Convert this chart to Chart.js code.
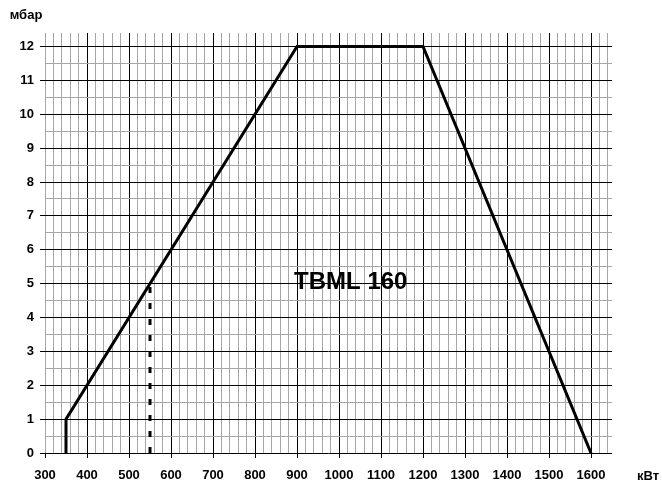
<!DOCTYPE html>
<html>
<head>
<meta charset="utf-8">
<script src="https://cdn.jsdelivr.net/npm/chart.js@4"></script>
<style>
  html, body { margin: 0; padding: 0; background: #fff; }
  #wrap { width: 662px; height: 484px; position: relative; }
</style>
</head>
<body>
<div id="wrap"><canvas id="rangeChart"></canvas></div>
<script>
// Working range curve
const powerKw = [350, 350, 900, 1200, 1600];
const pressureMbar = [0, 1, 12, 12, 0];

// Dashed reference line
const markKw = [550, 550];
const markMbar = [0, 5];

// Axis ticks
const xTicks = [300, 400, 500, 600, 700, 800, 900, 1000, 1100, 1200, 1300, 1400, 1500, 1600];
const yTicks = [0, 1, 2, 3, 4, 5, 6, 7, 8, 9, 10, 11, 12];

const modelName = 'TBML 160';
const modelAt = [1028, 5.05];

const fontFamily = '"Liberation Sans", Arial, sans-serif';
const minorColor = '#a6a6a6';

function isMajorX(v) { return xTicks.includes(Math.round(v)); }
function isMajorY(v) { return yTicks.includes(v); }

const textPlugin = {
    id: 'extraText',
    afterDraw(chart) {
        const ctx = chart.ctx;
        const x = chart.scales.x, y = chart.scales.y;
        ctx.save();
        ctx.fillStyle = '#000';
        ctx.textBaseline = 'middle';
        ctx.textAlign = 'center';
        ctx.font = 'bold 24px ' + fontFamily;
        ctx.fillText(modelName, x.getPixelForValue(modelAt[0]), y.getPixelForValue(modelAt[1]));
        ctx.font = 'bold 13px ' + fontFamily;
        ctx.fillText('мбар', 26, 15);
        ctx.fillText('кВт', 648, 476);
        ctx.restore();
    }
};

const rangeChart = new Chart(document.getElementById('rangeChart').getContext('2d'), {
    type: 'line',
    data: {
        datasets: [
            {
                data: powerKw.map((v, i) => ({ x: v, y: pressureMbar[i] })),
                borderColor: '#000',
                borderWidth: 3,
                pointRadius: 0,
                tension: 0,
                fill: false
            },
            {
                data: markKw.map((v, i) => ({ x: v, y: markMbar[i] })),
                borderColor: '#000',
                borderWidth: 3,
                borderDash: [6, 10],
                pointRadius: 0,
                fill: false
            }
        ]
    },
    options: {
        responsive: true,
        maintainAspectRatio: false,
        animation: false,
        layout: { padding: { left: 0, right: 50, top: 33, bottom: 0 } },
        plugins: {
            legend: { display: false },
            tooltip: { enabled: false }
        },
        scales: {
            x: {
                type: 'linear',
                min: 300,
                max: 1650,
                afterFit(scale) { scale.height = 31; },
                border: { display: false },
                grid: {
                    color: ctx => (ctx.tick && isMajorX(ctx.tick.value) && ctx.tick.value !== 300) ? '#000' : minorColor,
                    tickColor: ctx => (ctx.tick && isMajorX(ctx.tick.value)) ? '#000' : 'rgba(0,0,0,0)',
                    tickLength: 5,
                    lineWidth: 1
                },
                ticks: {
                    stepSize: 20,
                    includeBounds: false,
                    autoSkip: false,
                    maxRotation: 0,
                    padding: 10,
                    color: '#000',
                    font: { family: fontFamily, size: 13, weight: 'bold' },
                    callback: v => isMajorX(v) ? String(v) : ''
                }
            },
            y: {
                min: 0,
                max: 12.4,
                afterFit(scale) { scale.width = 45; },
                border: { display: false },
                grid: {
                    color: ctx => (ctx.tick && isMajorY(ctx.tick.value)) ? '#000' : minorColor,
                    tickColor: ctx => (ctx.tick && isMajorY(ctx.tick.value)) ? '#000' : 'rgba(0,0,0,0)',
                    tickLength: 5,
                    lineWidth: 1
                },
                ticks: {
                    stepSize: 0.5,
                    includeBounds: false,
                    autoSkip: false,
                    padding: 6,
                    color: '#000',
                    font: { family: fontFamily, size: 13, weight: 'bold' },
                    callback: v => isMajorY(v) ? String(v) : ''
                }
            }
        }
    },
    plugins: [textPlugin]
});
</script>
</body>
</html>
